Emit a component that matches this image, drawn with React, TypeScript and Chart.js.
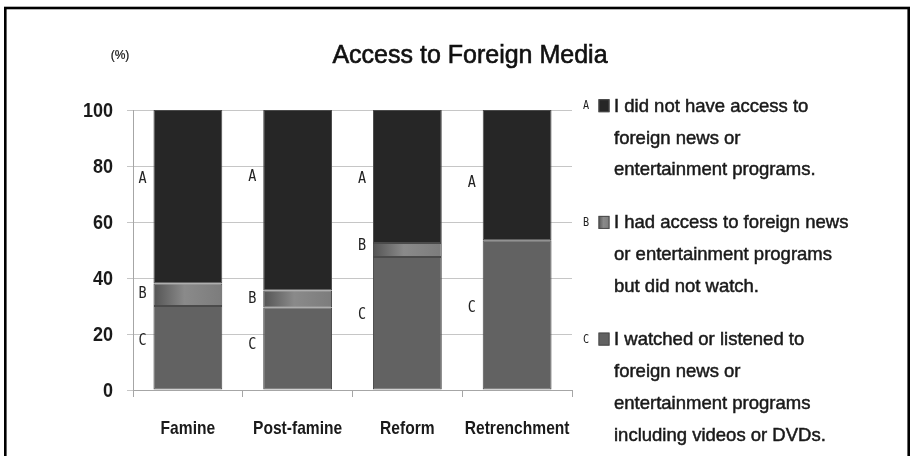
import React, { useEffect, useRef } from "react";
import { Chart, registerables } from "chart.js";

Chart.register(...registerables);

// ---------- data ----------
const categories = ["Famine", "Post-famine", "Reform", "Retrenchment"];
const seriesA = [62, 64.5, 47.5, 46.5]; // did not have access
const seriesB = [8, 6, 5, 0]; // had access, did not watch
const seriesC = [30, 29.5, 47.5, 53.5]; // watched or listened
const seriesKeys = ["A", "B", "C"];
const legendA = ["I did not have access to", "foreign news or", "entertainment programs."];
const legendB = ["I had access to foreign news", "or entertainment programs", "but did not watch."];
const legendC = [
  "I watched or listened to",
  "foreign news or",
  "entertainment programs",
  "including videos or DVDs.",
];
// positions (in %) of the small A/B/C letters next to each bar
const letterPosA = [76, 76.5, 76, 74.5];
const letterPosB = [35, 33, 52, null];
const letterPosC = [18, 16.5, 27.5, 30];
const yTickValues = [0, 20, 40, 60, 80, 100];
const yTickLabels = ["0", "20", "40", "60", "80", "100"];
const chartTitle = "Access to Foreign Media";
const unitLabel = "(%)";

const SANS = "'Liberation Sans', Arial, sans-serif";
const MONO = "'DejaVu Sans Mono', monospace";

const COLOR_A = "#262626";
const COLOR_C = "#626262";
const BORDER = "#4a4a4a";
const BAR_PCT = 0.627;

function makeGradient(ctx: CanvasRenderingContext2D, x0: number, x1: number) {
  const g = ctx.createLinearGradient(x0, 0, x1, 0);
  g.addColorStop(0, "#545454");
  g.addColorStop(0.45, "#8a8a8a");
  g.addColorStop(1, "#7c7c7c");
  return g;
}

function drawScaled(
  ctx: CanvasRenderingContext2D,
  text: string,
  x: number,
  y: number,
  sx: number,
  align: CanvasTextAlign,
  heavy = 0
) {
  ctx.save();
  ctx.translate(x, y);
  ctx.scale(sx, 1);
  ctx.textAlign = align;
  ctx.textBaseline = "alphabetic";
  ctx.fillText(text, 0, 0);
  if (heavy > 0) {
    ctx.lineWidth = heavy;
    ctx.strokeStyle = ctx.fillStyle as string;
    ctx.strokeText(text, 0, 0);
  }
  ctx.restore();
}

const decorPlugin = {
  id: "decor",
  afterDraw(chart: any) {
    const ctx: CanvasRenderingContext2D = chart.ctx;
    ctx.save();
    // frame
    ctx.strokeStyle = "#000";
    ctx.lineWidth = 2.6;
    ctx.strokeRect(5.3, 8, 903.4, 480);

    // title & unit
    ctx.fillStyle = "#111";
    ctx.font = `25px ${SANS}`;
    drawScaled(ctx, chartTitle, 470, 63, 1, "center", 0.6);
    ctx.font = `12px ${SANS}`;
    drawScaled(ctx, unitLabel, 120, 59, 1, "center", 0.2);

    // axis tick labels (positions from the chart scales)
    const xs = chart.scales.x;
    const ys = chart.scales.y;
    ctx.fillStyle = "#1a1a1a";
    ctx.font = `bold 19px ${SANS}`;
    categories.forEach((c, i) => {
      drawScaled(ctx, c, xs.getPixelForValue(i), 433.5, 0.82, "center");
    });
    ctx.font = `bold 20px ${SANS}`;
    yTickValues.forEach((v, i) => {
      drawScaled(ctx, yTickLabels[i], 113, ys.getPixelForValue(v) + 7.2, 0.9, "right");
    });

    // legend
    const groups = [legendA, legendB, legendC];
    groups.forEach((lines, gi) => {
      const base = 111.7 + gi * 116.7;
      ctx.font = `12px ${MONO}`;
      ctx.fillStyle = "#222";
      drawScaled(ctx, seriesKeys[gi], 586, base - 2.5, 0.85, "center");
      const sx = 598.5, sy = base - 12.5, sw = 11, sh = 13;
      ctx.fillStyle = gi === 0 ? COLOR_A : gi === 1 ? makeGradient(ctx, sx, sx + sw) : COLOR_C;
      ctx.fillRect(sx, sy, sw, sh);
      ctx.strokeStyle = BORDER;
      ctx.lineWidth = 1;
      ctx.strokeRect(sx + 0.5, sy + 0.5, sw - 1, sh - 1);
      ctx.fillStyle = "#1a1a1a";
      ctx.font = `18.5px ${SANS}`;
      lines.forEach((t, li) => drawScaled(ctx, t, 614, base + li * 31.8, 1, "left", 0.5));
    });

    // A/B/C letters beside bars
    const meta = chart.getDatasetMeta(0);
    ctx.font = `15px ${MONO}`;
    ctx.fillStyle = "#222";
    const pos = [letterPosA, letterPosB, letterPosC];
    categories.forEach((_, i) => {
      const el = meta.data[i];
      const x = el.x - el.width / 2 - 11;
      pos.forEach((arr, k) => {
        const v = arr[i];
        if (v === null || v === undefined) return;
        drawScaled(ctx, seriesKeys[k], x, ys.getPixelForValue(v) + 5.5, 0.9, "center");
      });
    });
    ctx.restore();
  },
};

export default function App() {
  const ref = useRef<HTMLCanvasElement | null>(null);
  useEffect(() => {
    if (!ref.current) return;
    const chart = new Chart(ref.current, {
      type: "bar",
      data: {
        labels: categories,
        datasets: [
          { label: seriesKeys[2], data: seriesC, backgroundColor: COLOR_C },
          {
            label: seriesKeys[1],
            data: seriesB,
            backgroundColor: (c: any) => {
              const ch = c.chart;
              const xs = ch.scales.x;
              if (!xs || !ch.chartArea) return "#7c7c7c";
              const cx = xs.getPixelForValue(c.dataIndex);
              const half = ((xs.width / categories.length) * BAR_PCT) / 2;
              return makeGradient(ch.ctx, cx - half, cx + half);
            },
          },
          { label: seriesKeys[0], data: seriesA, backgroundColor: COLOR_A },
        ].map((d) => ({
          ...d,
          borderColor: BORDER,
          borderWidth: 1,
          borderSkipped: false,
          barPercentage: BAR_PCT,
          categoryPercentage: 1,
        })) as any,
      },
      options: {
        responsive: false,
        animation: false,
        events: [],
        layout: { padding: { top: 110, right: 339, bottom: 0, left: 0 } },
        plugins: {
          legend: { display: false },
          tooltip: { enabled: false },
          title: { display: false },
        },
        scales: {
          x: {
            stacked: true,
            offset: true,
            grid: {
              display: true,
              offset: true,
              drawOnChartArea: false,
              drawTicks: true,
              tickLength: 7,
              color: "#a6a6a6",
            },
            border: { display: true, color: "#a6a6a6" },
            ticks: { display: false, autoSkip: false, maxRotation: 0 },
            afterFit: (s: any) => {
              s.height = 66;
            },
          },
          y: {
            stacked: true,
            min: 0,
            max: 100,
            afterBuildTicks: (s: any) => {
              s.ticks = yTickValues.map((v) => ({ value: v }));
            },
            grid: { color: "#c6c6c6", tickLength: 6, drawTicks: true },
            border: { display: true, color: "#a6a6a6" },
            ticks: { display: false },
            afterFit: (s: any) => {
              s.width = 133;
            },
          },
        },
      } as any,
      plugins: [decorPlugin],
    });
    return () => chart.destroy();
  }, []);

  return (
    <div style={{ position: "absolute", left: 0, top: 0, width: 911, height: 456, background: "#fff" }}>
      <canvas ref={ref} width={911} height={456} style={{ display: "block" }} />
    </div>
  );
}
